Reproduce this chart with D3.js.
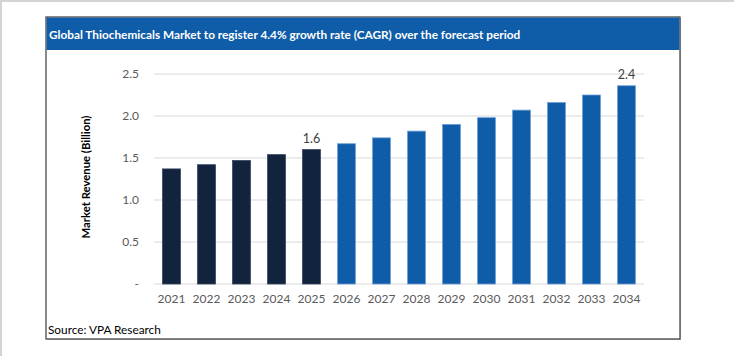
<!DOCTYPE html>
<html><head><meta charset="utf-8">
<script src="https://cdn.jsdelivr.net/npm/d3@7"></script>
<style>body{margin:0;background:#fff}svg{display:block}</style>
</head><body>
<svg id="c" width="734" height="356"></svg>
<script>
const years = ["2021","2022","2023","2024","2025","2026","2027","2028","2029","2030","2031","2032","2033","2034"];
const revenue = [1.37,1.42,1.47,1.54,1.60,1.67,1.74,1.82,1.90,1.98,2.07,2.16,2.25,2.36];
const historicalYears = ["2021","2022","2023","2024","2025"];
const yTicks = [0,0.5,1.0,1.5,2.0,2.5];
const labelYears = {"2025":"1.6","2034":"2.4"};
const titleText = "Global Thiochemicals Market to register 4.4% growth rate (CAGR) over the forecast period";
const yTitle = "Market Revenue (Billion)";
const sourceText = "Source: VPA Research";

const svg = d3.select("#c");
const font = "Lato, 'Open Sans', sans-serif";

// page edges
svg.append("rect").attr("x",0).attr("y",0).attr("width",734).attr("height",2).attr("fill","#d4d4d4");
svg.append("rect").attr("x",0).attr("y",0).attr("width",2).attr("height",356).attr("fill","#d4d4d4");

// box
svg.append("rect").attr("x",47).attr("y",18).attr("width",634).attr("height",322).attr("fill","#c8c8c8");
svg.append("rect").attr("x",46).attr("y",17).attr("width",634).attr("height",322).attr("fill","#fff").attr("stroke","#3a3a3a").attr("stroke-width",1.2);
svg.append("rect").attr("x",46.6).attr("y",17.6).attr("width",632.8).attr("height",32.4).attr("fill","#0f5ca8");
svg.append("text").attr("x",49).attr("y",38.5).attr("fill","#fff").attr("font-family",font)
  .attr("font-weight","bold").attr("font-size",11.8).text(titleText);

const x = d3.scaleBand().domain(years).range([154,644]).paddingInner(0.49).paddingOuter(0.245);
const y = d3.scaleLinear().domain([0,2.5]).range([284,74]);

// grid
svg.append("g").selectAll("line").data(yTicks).join("line")
  .attr("x1",154).attr("x2",644).attr("y1",d=>y(d)).attr("y2",d=>y(d))
  .attr("stroke","#d9d9d9").attr("stroke-width",1.2);

// y axis labels
const yAxis = d3.axisLeft(y).tickValues(yTicks).tickSize(0).tickPadding(15)
  .tickFormat(d=> d===0 ? "-" : d3.format(".1f")(d));
const ga = svg.append("g").attr("transform","translate(154,0)").call(yAxis);
ga.select(".domain").remove();
ga.selectAll("text").attr("font-family",font).attr("font-size",12).attr("fill","#595959");

// x axis labels
const xAxis = d3.axisBottom(x).tickSize(0).tickPadding(10);
const gx = svg.append("g").attr("transform","translate(0,284)").call(xAxis);
gx.select(".domain").remove();
gx.selectAll("text").attr("font-family",font).attr("font-size",12).attr("fill","#595959");

// bars
svg.append("g").selectAll("rect").data(years).join("rect")
  .attr("x",d=>x(d)).attr("width",x.bandwidth())
  .attr("y",(d,i)=>y(revenue[i])).attr("height",(d,i)=>y(0)-y(revenue[i]))
  .attr("fill",d=>historicalYears.includes(d) ? "#12233d" : "#0f5ca8")
  .attr("stroke",d=>historicalYears.includes(d) ? "#33445e" : "#6f9fd6").attr("stroke-width",0.8);

// data labels
svg.append("g").selectAll("text").data(years.filter(d=>labelYears[d])).join("text")
  .attr("x",d=>x(d)+x.bandwidth()/2).attr("y",d=>y(revenue[years.indexOf(d)])-7)
  .attr("text-anchor","middle").attr("font-family",font).attr("font-size",12.5).attr("fill","#404040")
  .text(d=>labelYears[d]);

// y title
svg.append("text").attr("transform","translate(90,177) rotate(-90)").attr("text-anchor","middle")
  .attr("font-family",font).attr("font-weight","bold").attr("font-size",11.3).attr("fill","#000").text(yTitle);

// source
svg.append("text").attr("x",48).attr("y",334).attr("font-family",font).attr("font-size",11.8).attr("fill","#000").text(sourceText);
</script>
</body></html>
